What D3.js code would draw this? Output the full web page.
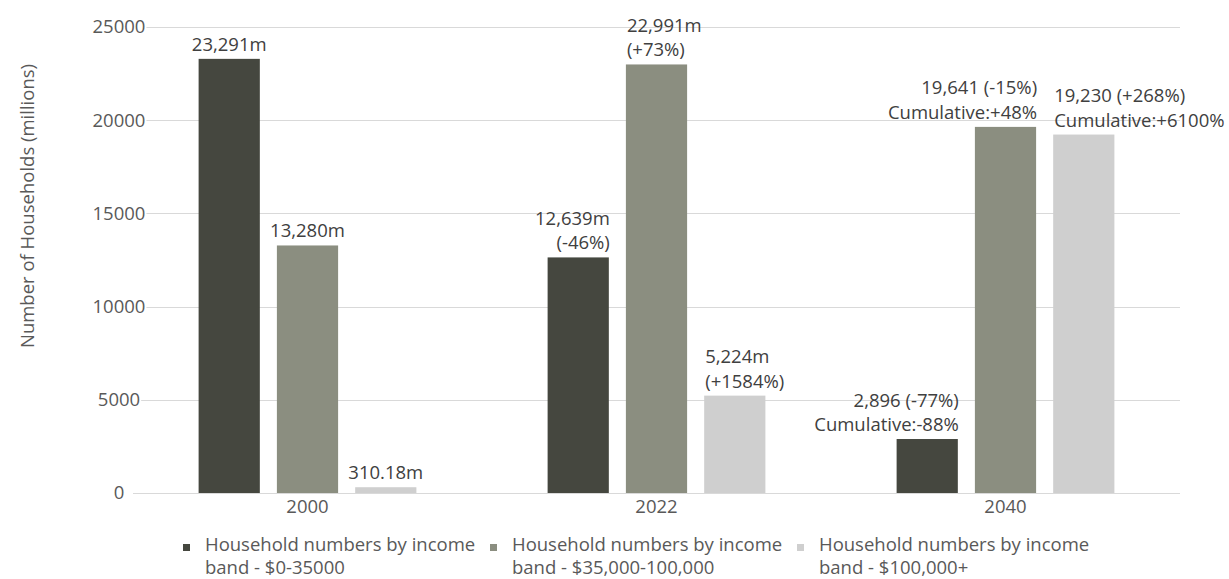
<!DOCTYPE html>
<html>
<head>
<meta charset="utf-8">
<script src="https://cdn.jsdelivr.net/npm/d3@7/dist/d3.min.js"></script>
<style>
    body { margin: 0; background: #fff; }
    text { font-family: "Open Sans", "Liberation Sans", sans-serif; }
</style>
</head>
<body>
<div id="chart"></div>
<script>
const years = ["2000", "2022", "2040"];
const series_names = [
    ["Household numbers by income", "band - $0-35000"],
    ["Household numbers by income", "band - $35,000-100,000"],
    ["Household numbers by income", "band - $100,000+"],
];
const low_band = [23291, 12639, 2896];
const mid_band = [13280, 22991, 19641];
const high_band = [310.18, 5224, 19230];

const low_labels = [["23,291m"], ["12,639m", "(-46%)"], ["2,896 (-77%)", "Cumulative:-88%"]];
const mid_labels = [["13,280m"], ["22,991m", "(+73%)"], ["19,641 (-15%)", "Cumulative:+48%"]];
const high_labels = [["310.18m"], ["5,224m", "(+1584%)"], ["19,230 (+268%)", "Cumulative:+6100%"]];

const y_ticks = [0, 5000, 10000, 15000, 20000, 25000];
const colors = ["#45473f", "#8b8e80", "#cfcfcf"];

const settings = {
    width: 1229,
    height: 579,
    left: 133,
    right: 1180,
    top: 27,
    bottom: 493,
    font: 18.5,
};

// which way each value label hangs off its bar (per series, per year)
const label_anchor = [
    ["middle", "end", "end"],
    ["middle", "start", "end"],
    ["middle", "start", "start"],
];

const all_values = [low_band, mid_band, high_band];
const all_labels = [low_labels, mid_labels, high_labels];

const bars = [];
all_values.forEach((vals, s) => {
    vals.forEach((v, i) => {
        bars.push({ series: s, year: years[i], value: v, lines: all_labels[s][i], anchor: label_anchor[s][i] });
    });
});

const svg = d3.select("#chart").append("svg")
    .attr("width", settings.width)
    .attr("height", settings.height);

const y = d3.scaleLinear().domain([0, 25000]).range([settings.bottom, settings.top]);
const x0 = d3.scaleBand().domain(years).range([settings.left, settings.right])
    .paddingInner(0.376).paddingOuter(0.188);
const x1 = d3.scaleBand().domain([0, 1, 2]).range([0, x0.bandwidth()]).paddingInner(0.218);

// gridlines
svg.append("g").selectAll("line")
    .data(y_ticks)
    .join("line")
    .attr("x1", settings.left)
    .attr("x2", settings.right)
    .attr("y1", (d) => Math.round(y(d)) + 0.5)
    .attr("y2", (d) => Math.round(y(d)) + 0.5)
    .attr("stroke", "#d9d9d9")
    .attr("stroke-width", 1);

// y tick labels (centred, sitting over the start of the gridlines)
const tick_g = svg.append("g");
tick_g.selectAll("g")
    .data(y_ticks)
    .join("g")
    .each(function (d) {
        const g = d3.select(this);
        const t = g.append("text")
            .attr("x", 119)
            .attr("y", y(d))
            .attr("dy", "0.35em")
            .attr("text-anchor", "middle")
            .attr("font-size", settings.font)
            .attr("fill", "#595959")
            .text(d);
        const bb = t.node().getBBox();
        g.insert("rect", "text")
            .attr("x", bb.x - 1)
            .attr("y", bb.y)
            .attr("width", bb.width + 2)
            .attr("height", bb.height)
            .attr("fill", "#fff");
    });

// y axis title
svg.append("text")
    .attr("transform", "translate(34,206) rotate(-90)")
    .attr("text-anchor", "middle")
    .attr("font-size", settings.font)
    .attr("fill", "#595959")
    .text("Number of Households (millions)");

// bars
svg.append("g").selectAll("rect")
    .data(bars)
    .join("rect")
    .attr("x", (d) => x0(d.year) + x1(d.series))
    .attr("y", (d) => y(d.value))
    .attr("width", x1.bandwidth())
    .attr("height", (d) => y(0) - y(d.value))
    .attr("fill", (d) => colors[d.series]);

// value labels
const label_x = (d) => {
    const left = x0(d.year) + x1(d.series);
    if (d.anchor == "start") return left + 1;
    if (d.anchor == "end") return left + x1.bandwidth() + 1;
    return left + x1.bandwidth() / 2;
};
svg.append("g").selectAll("text")
    .data(bars)
    .join("text")
    .attr("text-anchor", (d) => d.anchor)
    .attr("font-size", settings.font)
    .attr("fill", "#404040")
    .each(function (d) {
        const base = y(d.value) - 8;
        const n = d.lines.length;
        d3.select(this).selectAll("tspan")
            .data(d.lines)
            .join("tspan")
            .attr("x", label_x(d))
            .attr("y", (l, i) => base - (n - 1 - i) * 24.5)
            .text((l) => l);
    });

// x axis labels
svg.append("g").selectAll("text")
    .data(years)
    .join("text")
    .attr("x", (d) => x0(d) + x0.bandwidth() / 2)
    .attr("y", 513)
    .attr("text-anchor", "middle")
    .attr("font-size", settings.font)
    .attr("fill", "#595959")
    .text((d) => d);

// legend
const legend_x = d3.scaleBand().domain([0, 1, 2]).range([183, 183 + 3 * 307]);
const legend = svg.append("g").selectAll("g")
    .data(series_names)
    .join("g")
    .attr("transform", (d, i) => `translate(${legend_x(i)},0)`);
legend.append("rect")
    .attr("x", 0)
    .attr("y", 544)
    .attr("width", 7)
    .attr("height", 7)
    .attr("fill", (d, i) => colors[i]);
legend.append("text")
    .attr("font-size", settings.font)
    .attr("fill", "#595959")
    .selectAll("tspan")
    .data((d) => d)
    .join("tspan")
    .attr("x", 22)
    .attr("y", (d, i) => 551 + i * 23)
    .text((d) => d);
</script>
</body>
</html>
